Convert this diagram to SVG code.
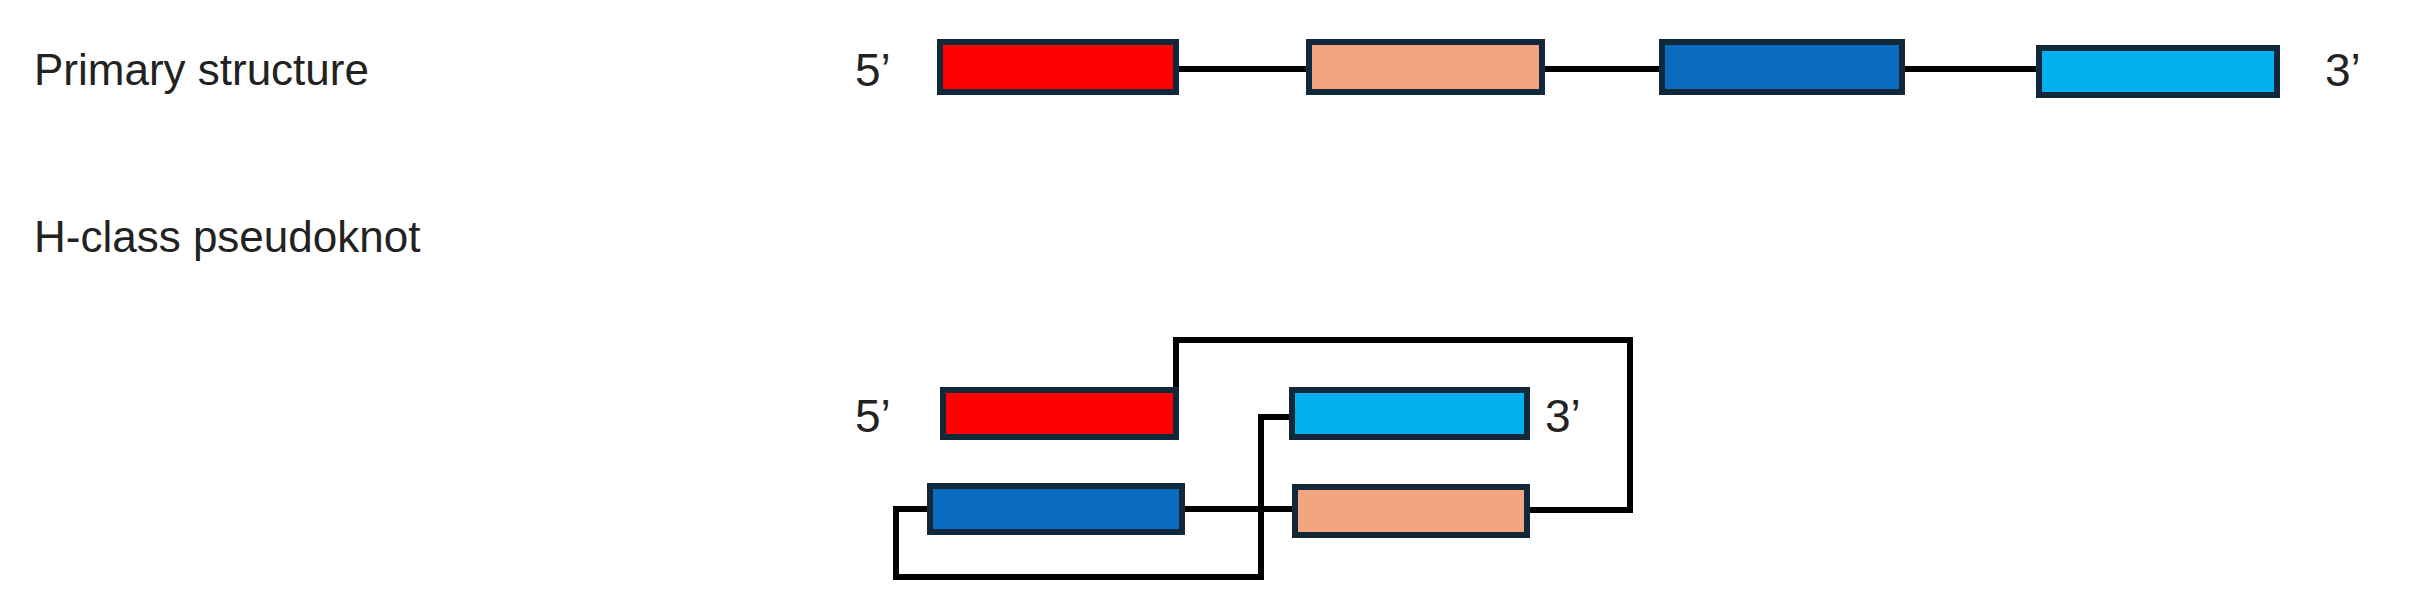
<svg xmlns="http://www.w3.org/2000/svg" width="2411" height="614" viewBox="0 0 2411 614">
<style>
text{font-family:"Liberation Sans",Arial,sans-serif;fill:#222}
.lbl{font-size:44px}
.end{font-size:46px}
.box{stroke:#10283a;stroke-width:6}
.ln{fill:none;stroke:#000;stroke-width:6}
</style>
<rect width="2411" height="614" fill="#fff"/>
<text class="lbl" x="34" y="85">Primary structure</text>
<text class="lbl" x="34" y="252">H-class pseudoknot</text>
<g id="connectors">
<line class="ln" x1="1176" y1="69" x2="1309" y2="69"/>
<line class="ln" x1="1542" y1="69" x2="1662" y2="69"/>
<line class="ln" x1="1902" y1="69" x2="2039" y2="69"/>
<polyline class="ln" points="1176,395 1176,340 1630,340 1630,510 1527,510"/>
<polyline class="ln" points="930,509 896,509 896,577 1261,577 1261,417 1292,417"/>
<line class="ln" x1="1182" y1="509" x2="1295" y2="509"/>
</g>
<g id="primary">
<text class="end" x="855" y="86">5’</text>
<rect id="p1" class="box" x="940" y="42" width="236" height="50" fill="#fe0000"/>
<rect id="p2" class="box" x="1309" y="42" width="233" height="50" fill="#f2a57e"/>
<rect id="p3" class="box" x="1662" y="42" width="240" height="50" fill="#0a6cc0"/>
<rect id="p4" class="box" x="2039" y="48" width="238" height="47" fill="#02b0f0"/>
<text class="end" x="2325" y="86">3’</text>
</g>
<g id="pseudoknot">
<text class="end" x="855" y="432">5’</text>
<rect id="k1" class="box" x="943" y="390" width="233" height="47" fill="#fe0000"/>
<rect id="k2" class="box" x="1292" y="390" width="235" height="47" fill="#02b0f0"/>
<text class="end" x="1545" y="432">3’</text>
<rect id="k3" class="box" x="930" y="486" width="252" height="46" fill="#0a6cc0"/>
<rect id="k4" class="box" x="1295" y="487" width="232" height="48" fill="#f2a57e"/>
</g>
</svg>
